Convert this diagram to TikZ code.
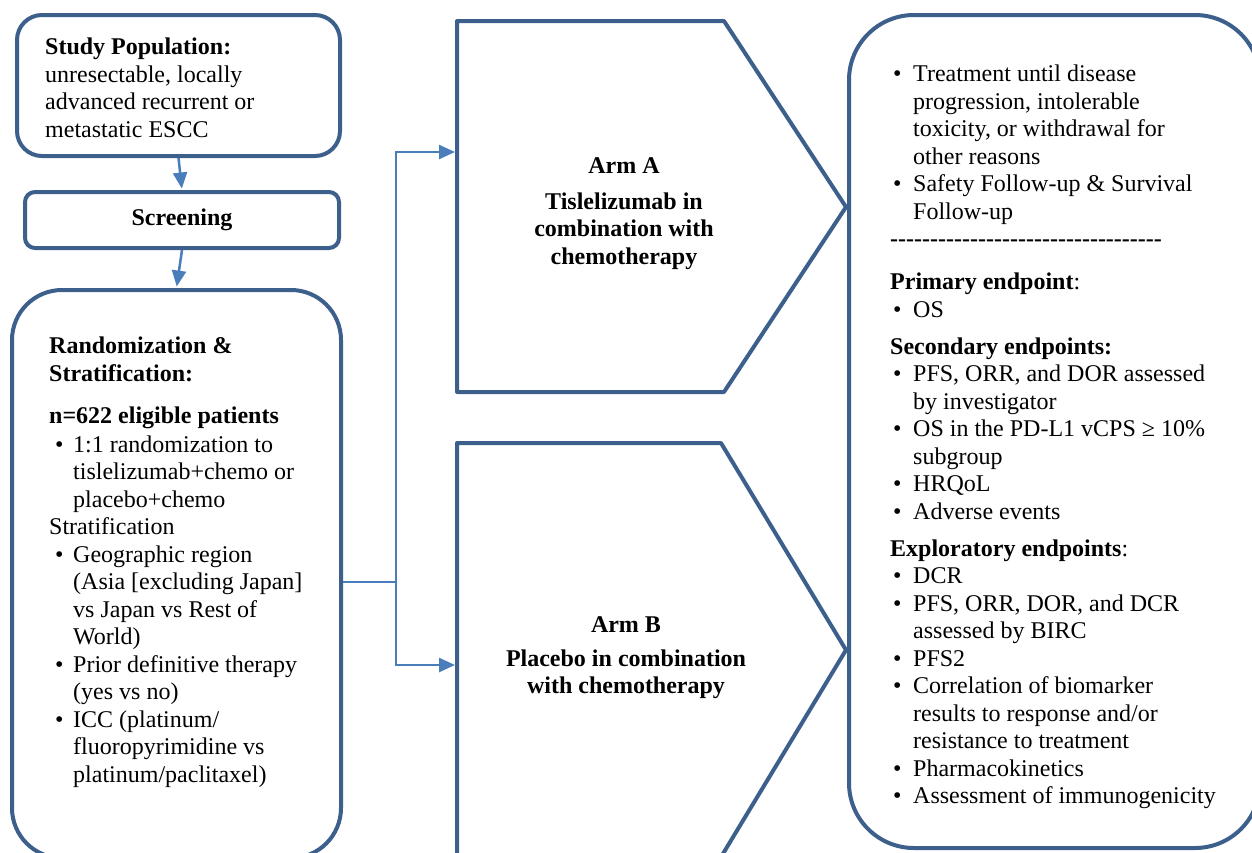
\documentclass[tikz,border=0pt]{standalone}
\usepackage{fontspec}
\setmainfont{Liberation Serif}
\usetikzlibrary{arrows.meta}
\definecolor{boxblue}{HTML}{3C5F8C}
\definecolor{linkblue}{HTML}{4A7EBB}
\newcommand\bl{\hspace*{6pt}\makebox[18pt][l]{\textbullet}}
\newcommand\il{\hspace*{24pt}}
\newcommand\br{\hspace*{3pt}\makebox[20pt][l]{\textbullet}}
\newcommand\ir{\hspace*{23pt}}
\newcommand\dashline{\textbf{-{}-{}-{}-{}-{}-{}-{}-{}-{}-{}-{}-{}-{}-{}-{}-{}-{}-{}-{}-{}-{}-{}-{}-{}-{}-{}-{}-{}-{}-{}-{}-{}-{}-}}
\begin{document}
\begin{tikzpicture}[x=1pt,y=-1pt,
  box/.style={draw=boxblue,line width=4pt,fill=white,inner sep=0pt},
  arm/.style={draw=boxblue,line width=4pt,line join=round},
  conn/.style={draw=linkblue,line width=2.5pt},
  arr/.style={conn,-{Triangle[length=16pt,width=14pt]}},
  txt/.style={inner sep=0pt,font=\fontsize{24}{27.5}\selectfont,align=left,anchor=north west},
  armtxt/.style={inner sep=0pt,font=\fontsize{24}{27.5}\selectfont\bfseries,align=center,anchor=north},
]
\useasboundingbox (0,0) rectangle (1252,852);
\clip (0,0) rectangle (1252,852);

% boxes
\node[box,rounded corners=25pt,minimum width=323pt,minimum height=141pt] (pop) at (178.5,85.5) {};
\node[box,rounded corners=10pt,minimum width=314pt,minimum height=56pt,font=\fontsize{24}{27.5}\selectfont\bfseries] (scr) at (182,220) {Screening};
\node[box,rounded corners=50pt,minimum width=329pt,minimum height=568pt] (rand) at (176.5,574) {};
\node[box,rounded corners=65pt,minimum width=411pt,minimum height=833pt] (fol) at (1054.5,431.5) {};

% arms
\draw[arm] (457,21) -- (724,21) -- (846,207) -- (724,392) -- (457,392) -- cycle;
\draw[arm] (457,443) -- (721,443) -- (846,650) -- (721,857) -- (457,857) -- cycle;

% connectors
\coordinate (br) at (396,582);
\coordinate (ain) at (455,152);
\coordinate (bin) at (455,665);
\draw[arr,shorten >=1.5pt] (pop.south) -- (scr.north);
\draw[arr,shorten >=1.5pt] (scr.south) -- (rand.north);
\draw[conn] (rand.east |- br) -- (br);
\draw[arr] (br) |- (ain);
\draw[arr] (br) |- (bin);

% texts
\node[txt] (popt) at (45,38) {\textbf{Study Population:}\\unresectable, locally\\advanced recurrent or\\metastatic ESCC};

\node[txt] (randt) at (49,337) {\textbf{Randomization \&}\\\textbf{Stratification:}\\[14.5pt]\textbf{n=622 eligible patients}\\[1.5pt]\bl 1:1 randomization to\\\il tislelizumab+chemo or\\\il placebo+chemo\\Stratification\\\bl Geographic region\\\il (Asia [excluding Japan]\\\il vs Japan vs Rest of\\\il World)\\\bl Prior definitive therapy\\\il (yes vs no)\\\bl ICC (platinum/\\\il fluoropyrimidine vs\\\il platinum/paclitaxel)};

\node[armtxt] (armAt) at (624,157) {Arm A\\[8.5pt]Tislelizumab in\\combination with\\chemotherapy};
\node[armtxt] (armBt) at (626,616) {Arm B\\[6.5pt]Placebo in combination\\with chemotherapy};

\node[txt] (folt) at (890,65) {\br Treatment until disease\\\ir progression, intolerable\\\ir toxicity, or withdrawal for\\\ir other reasons\\\br Safety Follow-up \& Survival\\\ir Follow-up\\\dashline\\[15.5pt]\textbf{Primary endpoint}:\\\br OS\\[9.5pt]\textbf{Secondary endpoints:}\\\br PFS, ORR, and DOR assessed\\\ir by investigator\\\br OS in the PD-L1 vCPS ≥ 10\%\\\ir subgroup\\\br HRQoL\\\br Adverse events\\[9.5pt]\textbf{Exploratory endpoints}:\\\br DCR\\\br PFS, ORR, DOR, and DCR\\\ir assessed by BIRC\\\br PFS2\\\br Correlation of biomarker\\\ir results to response and/or\\\ir resistance to treatment\\\br Pharmacokinetics\\\br Assessment of immunogenicity};
\end{tikzpicture}
\end{document}
